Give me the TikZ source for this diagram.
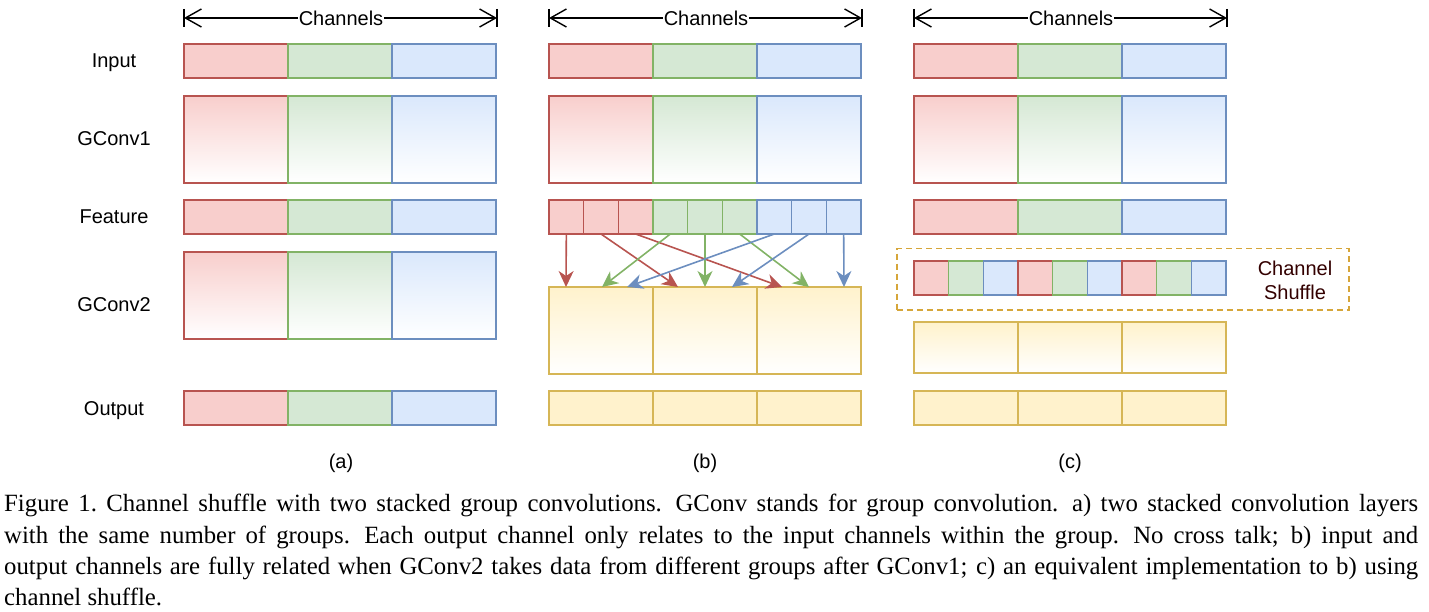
\documentclass[tikz,border=0pt]{standalone}
\usepackage{fontspec}
\setmainfont{Liberation Serif}
\setsansfont{Liberation Sans}
\usetikzlibrary{arrows.meta}
\definecolor{rF}{HTML}{F8CECC}
\definecolor{rS}{HTML}{B85450}
\definecolor{gF}{HTML}{D5E8D4}
\definecolor{gS}{HTML}{82B366}
\definecolor{bF}{HTML}{DAE8FC}
\definecolor{bS}{HTML}{6C8EBF}
\definecolor{yF}{HTML}{FFF2CC}
\definecolor{yS}{HTML}{D6B656}
\definecolor{dashC}{HTML}{D6A63A}
\definecolor{txtC}{HTML}{330000}
\newcommand\mycapsetup{\fontsize{24.8}{31}\selectfont\spaceskip=0.25em plus 0.1em minus 0.05em\relax\xspaceskip=0.42em plus 0.1em minus 0.05em\relax}
\tikzset{
  blk/.style={draw, line width=1.5pt, minimum width=104pt, anchor=north west, inner sep=0pt, outer sep=0pt},
  sub/.style={draw, line width=1.5pt, minimum width=34.667pt, minimum height=34pt, anchor=north west, inner sep=0pt, outer sep=0pt},
  lbl/.style={font=\sffamily\fontsize{20}{24}\selectfont, inner sep=0pt, anchor=base},
  arr/.style={line width=1.6pt, -{Stealth[length=16pt,width=15pt,inset=5pt]}},
  dimline/.style={line width=1.4pt, {Straight Barb[length=16pt,width=18pt]}-{Straight Barb[length=16pt,width=18pt]}},
  captext/.style={anchor=base west, inner sep=0pt, font=\mycapsetup},
}
\begin{document}
\begin{tikzpicture}[x=1pt,y=-1pt]
\useasboundingbox (0,0) rectangle (1429,612);
% row labels
\node[lbl] (lIn) at (114,68) {Input};
\node[lbl] (lG1) at (114,146) {GConv1};
\node[lbl] (lFe) at (114,224) {Feature};
\node[lbl] (lG2) at (114,311) {GConv2};
\node[lbl] (lOu) at (114,415) {Output};
% common rows
\foreach \c/\x in {a/184,b/549,c/914}{
  \node[blk, minimum height=34pt, fill=rF, draw=rS] (\c in1) at (\x,44) {};
  \node[blk, minimum height=34pt, fill=gF, draw=gS] (\c in2) at (\x+104,44) {};
  \node[blk, minimum height=34pt, fill=bF, draw=bS] (\c in3) at (\x+208,44) {};
  \node[blk, minimum height=87pt, top color=rF, bottom color=white, draw=rS] (\c ga1) at (\x,96) {};
  \node[blk, minimum height=87pt, top color=gF, bottom color=white, draw=gS] (\c ga2) at (\x+104,96) {};
  \node[blk, minimum height=87pt, top color=bF, bottom color=white, draw=bS] (\c ga3) at (\x+208,96) {};
  % channels dimension line
  \coordinate (\c L) at (\x,18);
  \coordinate (\c R) at (\x+313,18);
  \draw[dimline] (\c L) -- (\c R);
  \draw[line width=1.4pt] (\x,9) -- (\x,27) (\x+313,9) -- (\x+313,27);
  \node[lbl, anchor=center, fill=white, inner xsep=1pt, inner ysep=2pt] (\c ch) at (\x+157,18) {Channels};
}
% (a) and (c) feature rows
\foreach \c/\x in {a/184,c/914}{
  \node[blk, minimum height=34pt, fill=rF, draw=rS] (\c fe1) at (\x,200) {};
  \node[blk, minimum height=34pt, fill=gF, draw=gS] (\c fe2) at (\x+104,200) {};
  \node[blk, minimum height=34pt, fill=bF, draw=bS] (\c fe3) at (\x+208,200) {};
}
% (a) GConv2 and output
\node[blk, minimum height=87pt, top color=rF, bottom color=white, draw=rS] (agb1) at (184,252) {};
\node[blk, minimum height=87pt, top color=gF, bottom color=white, draw=gS] (agb2) at (288,252) {};
\node[blk, minimum height=87pt, top color=bF, bottom color=white, draw=bS] (agb3) at (392,252) {};
\node[blk, minimum height=34pt, fill=rF, draw=rS] (aou1) at (184,391) {};
\node[blk, minimum height=34pt, fill=gF, draw=gS] (aou2) at (288,391) {};
\node[blk, minimum height=34pt, fill=bF, draw=bS] (aou3) at (392,391) {};
% (b) feature split
\foreach \i/\f/\d in {0/rF/rS,1/rF/rS,2/rF/rS,3/gF/gS,4/gF/gS,5/gF/gS,6/bF/bS,7/bF/bS,8/bF/bS}
  \node[sub, fill=\f, draw=\d] (bf\i) at (549+\i*34.6667,200) {};
% (b) GConv2 and output
\foreach \i in {1,2,3}{
  \node[blk, minimum height=87pt, top color=yF, bottom color=white, draw=yS] (bg\i) at (549+\i*104-104,287) {};
  \node[blk, minimum height=34pt, fill=yF, draw=yS] (bou\i) at (549+\i*104-104,391) {};
}
% (b) arrows
\draw[arr, color=rS] (bf0.south) -- ([xshift=17pt]bg1.north west);
\draw[arr, color=rS] (bf1.south) -- ([xshift=25pt]bg2.north west);
\draw[arr, color=rS] (bf2.south) -- ([xshift=25pt]bg3.north west);
\draw[arr, color=gS] (bf3.south) -- ([xshift=53pt]bg1.north west);
\draw[arr, color=gS] (bf4.south) -- ([xshift=52pt]bg2.north west);
\draw[arr, color=gS] (bf5.south) -- ([xshift=52pt]bg3.north west);
\draw[arr, color=bS] (bf6.south) -- ([xshift=78pt]bg1.north west);
\draw[arr, color=bS] (bf7.south) -- ([xshift=79pt]bg2.north west);
\draw[arr, color=bS] (bf8.south) -- ([xshift=87pt]bg3.north west);
% (c) channel shuffle
\node[draw=dashC, line width=1.5pt, dash pattern=on 6pt off 4pt, anchor=north west, minimum width=452pt, minimum height=61pt, inner sep=0pt] (cbox) at (896,248) {};
\foreach \i/\f/\d in {0/rF/rS,1/gF/gS,2/bF/bS,3/rF/rS,4/gF/gS,5/bF/bS,6/rF/rS,7/gF/gS,8/bF/bS}
  \node[sub, fill=\f, draw=\d] (cs\i) at (914+\i*34.6667,261) {};
\node[lbl, anchor=center, text=txtC, align=center] (cst) at (1295,280) {Channel\\Shuffle};
\foreach \i in {1,2,3}{
  \node[blk, minimum height=51pt, top color=yF, bottom color=white, draw=yS] (cg\i) at (914+\i*104-104,322) {};
  \node[blk, minimum height=34pt, fill=yF, draw=yS] (cou\i) at (914+\i*104-104,391) {};
}
% sub labels
\node[lbl] (sa) at (341,468) {(a)};
\node[lbl] (sb) at (705,468) {(b)};
\node[lbl] (sc) at (1070,468) {(c)};
% caption
\node[captext] (cap1) at (4,511.7) {\makebox[1414pt][s]{Figure 1.\ Channel shuffle with two stacked group convolutions.  GConv stands for group convolution.  a) two stacked convolution layers}};
\node[captext] (cap2) at (4,543) {\makebox[1414pt][s]{with the same number of groups.  Each output channel only relates to the input channels within the group.  No cross talk; b) input and}};
\node[captext] (cap3) at (4,574) {\makebox[1414pt][s]{output channels are fully related when GConv2 takes data from different groups after GConv1; c) an equivalent implementation to b) using}};
\node[captext] (cap4) at (4,605) {channel shuffle.};
\end{tikzpicture}
\end{document}
